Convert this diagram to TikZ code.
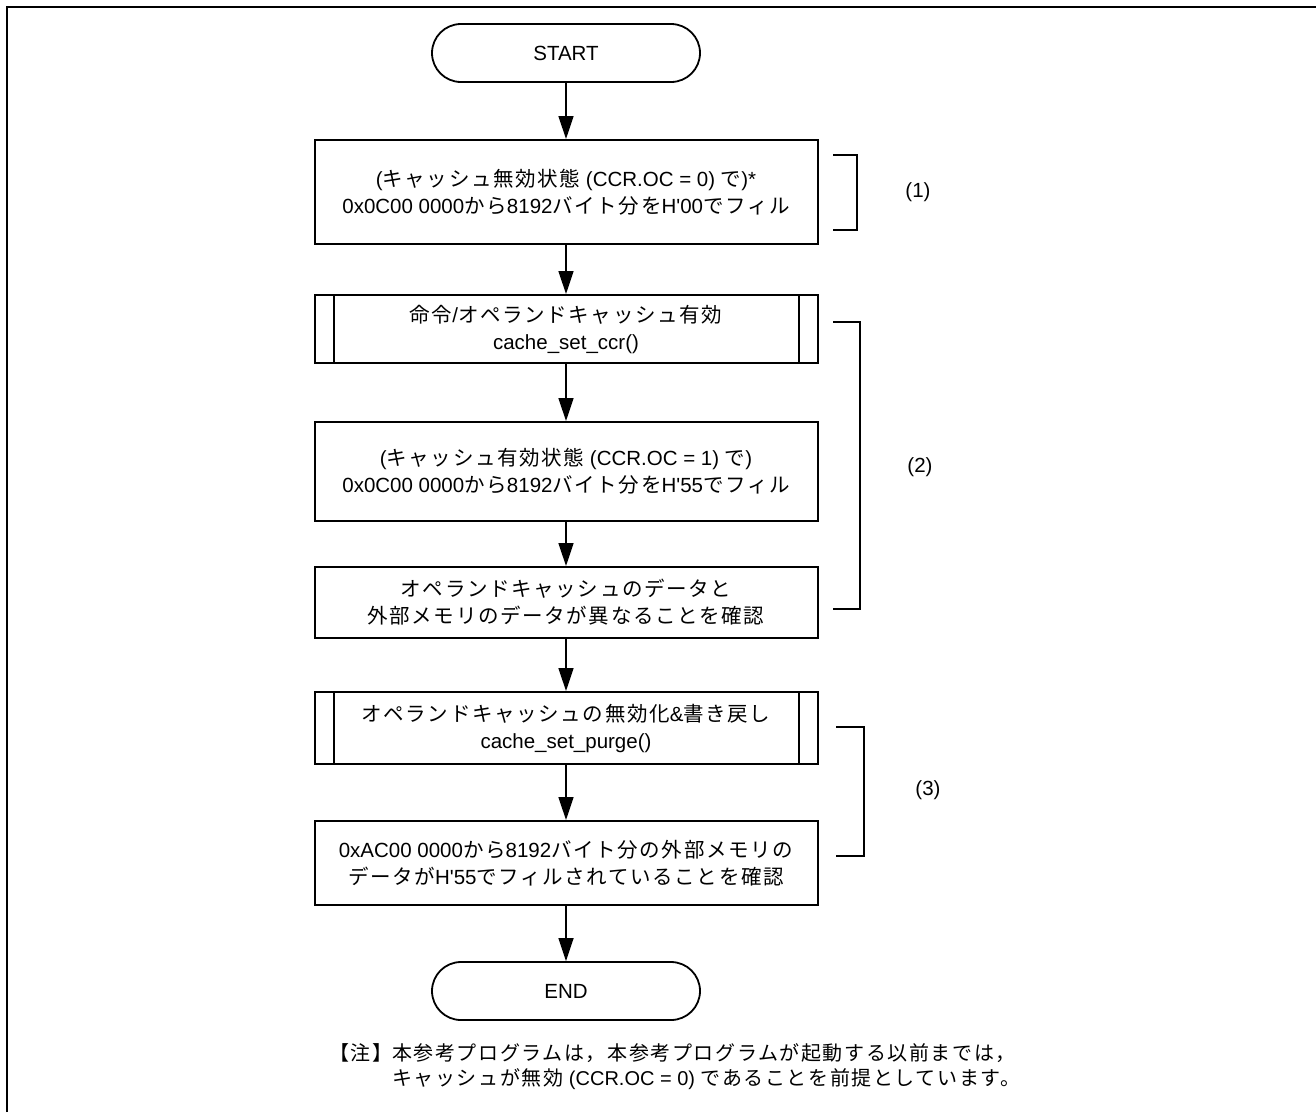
\documentclass[tikz,border=0pt]{standalone}
\usepackage{fontspec}
\setmainfont{Liberation Sans}
\newfontfamily\cjk[LetterSpace=8]{Noto Sans CJK JP}
\newcommand\J[1]{{\cjk #1}}
\newcommand\q{\textquotesingle}
\usetikzlibrary{arrows.meta}
\tikzset{
  box/.style={draw, line width=2pt, minimum width=503pt, align=center, inner sep=0pt, font=\fontsize{20.5}{27}\selectfont},
  term/.style={draw, line width=1.8pt, minimum width=268pt, minimum height=58pt, rounded corners=29pt, font=\fontsize{20.5}{24}\selectfont},
  flow/.style={line width=1.5pt, -{Triangle[length=23pt,width=15pt]}},
  brk/.style={line width=1.2pt},
  lbl/.style={font=\fontsize{20.5}{24}\selectfont},
  note/.style={anchor=west, inner sep=0pt, font=\fontsize{20}{24}\selectfont}
}
\begin{document}
\begin{tikzpicture}[x=1pt,y=-1pt]
\useasboundingbox (0,0) rectangle (1316,1112);
\draw[line width=2.5pt] (7,1112) -- (7,7) -- (1316,7);

\node[term] (start) at (566,53) {START};
\node[box, minimum height=104pt] (b1) at (566,192) {(\J{キャッシュ無効状態} (CCR.OC = 0) \J{で})*\\0x0C00 0000\J{から}8192\J{バイト分を}H\q00\J{でフィル}};
\node[box, minimum height=68pt] (b2) at (566,329) {\J{命令}/\J{オペランドキャッシュ有効}\\cache\_set\_ccr()};
\node[box, minimum height=99pt] (b3) at (566,471.5) {(\J{キャッシュ有効状態} (CCR.OC = 1) \J{で})\\0x0C00 0000\J{から}8192\J{バイト分を}H\q55\J{でフィル}};
\node[box, minimum height=71pt] (b4) at (566,602.5) {\J{オペランドキャッシュのデータと}\\\J{外部メモリのデータが異なることを確認}};
\node[box, minimum height=72pt] (b5) at (566,728) {\J{オペランドキャッシュの無効化}\&\J{書き戻し}\\cache\_set\_purge()};
\node[box, minimum height=84pt] (b6) at (566,863) {0xAC00 0000\J{から}8192\J{バイト分の外部メモリの}\\\J{データが}H\q55\J{でフィルされていることを確認}};
\node[term] (end) at (566,991) {END};

\foreach \b in {b2,b5}{
  \draw[line width=2pt] ([xshift=20pt]\b.north west) -- ([xshift=20pt]\b.south west);
  \draw[line width=2pt] ([xshift=-20pt]\b.north east) -- ([xshift=-20pt]\b.south east);
}

\draw[flow] (start) -- (b1);
\draw[flow] (b1) -- (b2);
\draw[flow] (b2) -- (b3);
\draw[flow] (b3) -- (b4);
\draw[flow] (b4) -- (b5);
\draw[flow] (b5) -- (b6);
\draw[flow] (b6) -- (end);

\draw[brk] (833,155) -- (857,155) -- (857,230) -- (833,230);
\draw[brk] (833,322) -- (860,322) -- (860,609) -- (833,609);
\draw[brk] (836,727) -- (864,727) -- (864,856) -- (836,856);
\node[lbl] (l1) at (918,192) {(1)};
\node[lbl] (l2) at (920,467) {(2)};
\node[lbl] (l3) at (928,790) {(3)};

\node[note] (n0) at (329,1053) {\J{【注】}};
\node[note] (n1) at (392,1053) {\J{本参考プログラムは，本参考プログラムが起動する以前までは，}};
\node[note] (n2) at (392,1079) {\J{キャッシュが無効} (CCR.OC = 0) \J{であることを前提としています。}};
\end{tikzpicture}
\end{document}
